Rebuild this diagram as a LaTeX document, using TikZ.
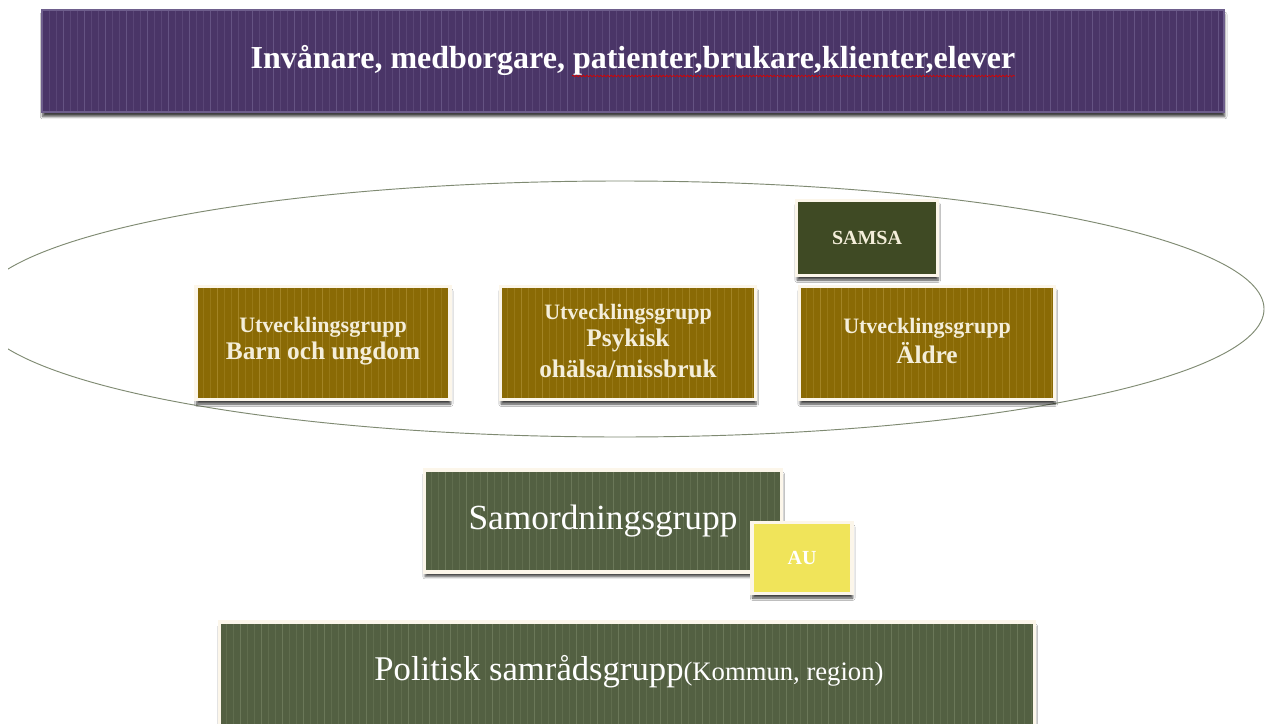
\documentclass[tikz,border=0pt]{standalone}
\usepackage{fontspec}
\setmainfont{Liberation Serif}
\usetikzlibrary{shadows,shadows.blur,decorations.pathmorphing}
\definecolor{purplebg}{HTML}{4A3567}
\definecolor{purplestripe}{HTML}{7C6C9A}
\definecolor{purpleborder}{HTML}{6E5E8C}
\definecolor{goldbg}{HTML}{8A6A05}
\definecolor{goldstripe}{HTML}{B89A40}
\definecolor{darkgreen}{HTML}{3F4A24}
\definecolor{greenbg}{HTML}{536042}
\definecolor{greenstripe}{HTML}{808D6C}
\definecolor{aubg}{HTML}{F0E45A}
\definecolor{cream}{HTML}{FCF6EA}
\definecolor{creamtext}{HTML}{F4EEDA}
\definecolor{ellipsecol}{HTML}{7F8A72}
\tikzset{
  sz/.style 2 args={minimum width=#1*0.75pt, minimum height=#2*0.75pt, inner sep=0pt, outer sep=0pt},
  shad/.style={blur shadow={shadow xshift=0.5pt, shadow yshift=-3.4pt, shadow blur steps=6,
      shadow blur radius=1.8pt, shadow opacity=75}},
  stripes/.style={path picture={
    \foreach \i [evaluate=\i as \op using {mod(\i,3)==0 ? 0.55 : 0.3}] in {0,...,170} {
      \draw[#1, line width=0.6pt, opacity=\op]
        ([xshift=\i*7*0.75pt]path picture bounding box.south west) --
        ([xshift=\i*7*0.75pt]path picture bounding box.north west);
    }
  }},
  banner/.style={fill=purplebg, draw=purpleborder, line width=0.8pt, shad, stripes=purplestripe},
  goldbox/.style={fill=goldbg, draw=cream, line width=2.4pt, shad, stripes=goldstripe},
  samsabox/.style={fill=darkgreen, draw=cream, line width=2.4pt, shad,
    text=creamtext, align=center, font=\bfseries\fontsize{15}{18}\selectfont},
  greenbox/.style={fill=greenbg, draw=cream, line width=2.4pt, shad, stripes=greenstripe},
  aubox/.style={fill=aubg, draw=cream, line width=2.4pt, shad,
    text=white, align=center, font=\bfseries\fontsize{15}{18}\selectfont},
  boxtext/.style={text=creamtext, align=center, font=\bfseries, inner sep=0pt},
  squiggle/.style={red!85!black, line width=0.5pt, decorate,
    decoration={snake, amplitude=0.6pt, segment length=2.6pt}},
}
\newcommand{\smallline}[1]{{\fontsize{16.5}{20}\selectfont #1}}
\newcommand{\bigline}[1]{{\fontsize{19}{20}\selectfont #1}}
\begin{document}
\begin{tikzpicture}[x=0.75pt,y=-0.75pt]
\useasboundingbox (0,0) rectangle (1270,724);
\fill[white] (0,0) rectangle (1270,724);

% banner
\node[banner, sz={1182}{102}] (top) at (633,61) {};
\node[text=white, font=\bfseries\fontsize{24}{28}\selectfont, inner sep=0pt] (toptext) at (633,60)
  {Invånare, medborgare, patienter,brukare,klienter,elever};
\coordinate (sqa) at (572,76);
\coordinate (sqb) at (1015,76);
\draw[squiggle] (sqa) -- (sqb);

% ellipse
\begin{scope}
\clip (8,0) rectangle (1270,724);
\draw[ellipsecol, line width=0.7pt] (620,309) ellipse [x radius=644, y radius=128];
\end{scope}

% development groups
\node[goldbox, sz={254}{113}] (barn) at (323,343) {};
\node[boxtext] (barntext) at (323,341)
  {\smallline{Utvecklingsgrupp}\\[2pt]\bigline{Barn och ungdom}};

\node[goldbox, sz={255}{113}] (psyk) at (628,343) {};
\node[boxtext] (psyktext) at (628,341)
  {\smallline{Utvecklingsgrupp}\\[3pt]\bigline{Psykisk}\\[5pt]\bigline{ohälsa/missbruk}};

\node[goldbox, sz={255}{113}] (aldre) at (927,343) {};
\node[boxtext] (aldretext) at (927,341)
  {\smallline{Utvecklingsgrupp}\\[2pt]\bigline{Äldre}};

\node[samsabox, sz={141}{75}] (samsa) at (867,238) {SAMSA};

% coordination
\node[greenbox, sz={357}{102}] (samord) at (603,521) {};
\node[text=white, font=\fontsize{26.5}{30}\selectfont, inner sep=0pt] (samordtext) at (603,521) {Samordningsgrupp};
\node[aubox, sz={100}{71}] (au) at (802,558) {AU};

% political
\node[greenbox, sz={815}{108}] (pol) at (627,676) {};
\node[text=white, inner sep=0pt] (poltext) at (629,672)
  {{\fontsize{26}{30}\selectfont Politisk samrådsgrupp}{\fontsize{20}{24}\selectfont(Kommun, region)}};
\end{tikzpicture}
\end{document}
